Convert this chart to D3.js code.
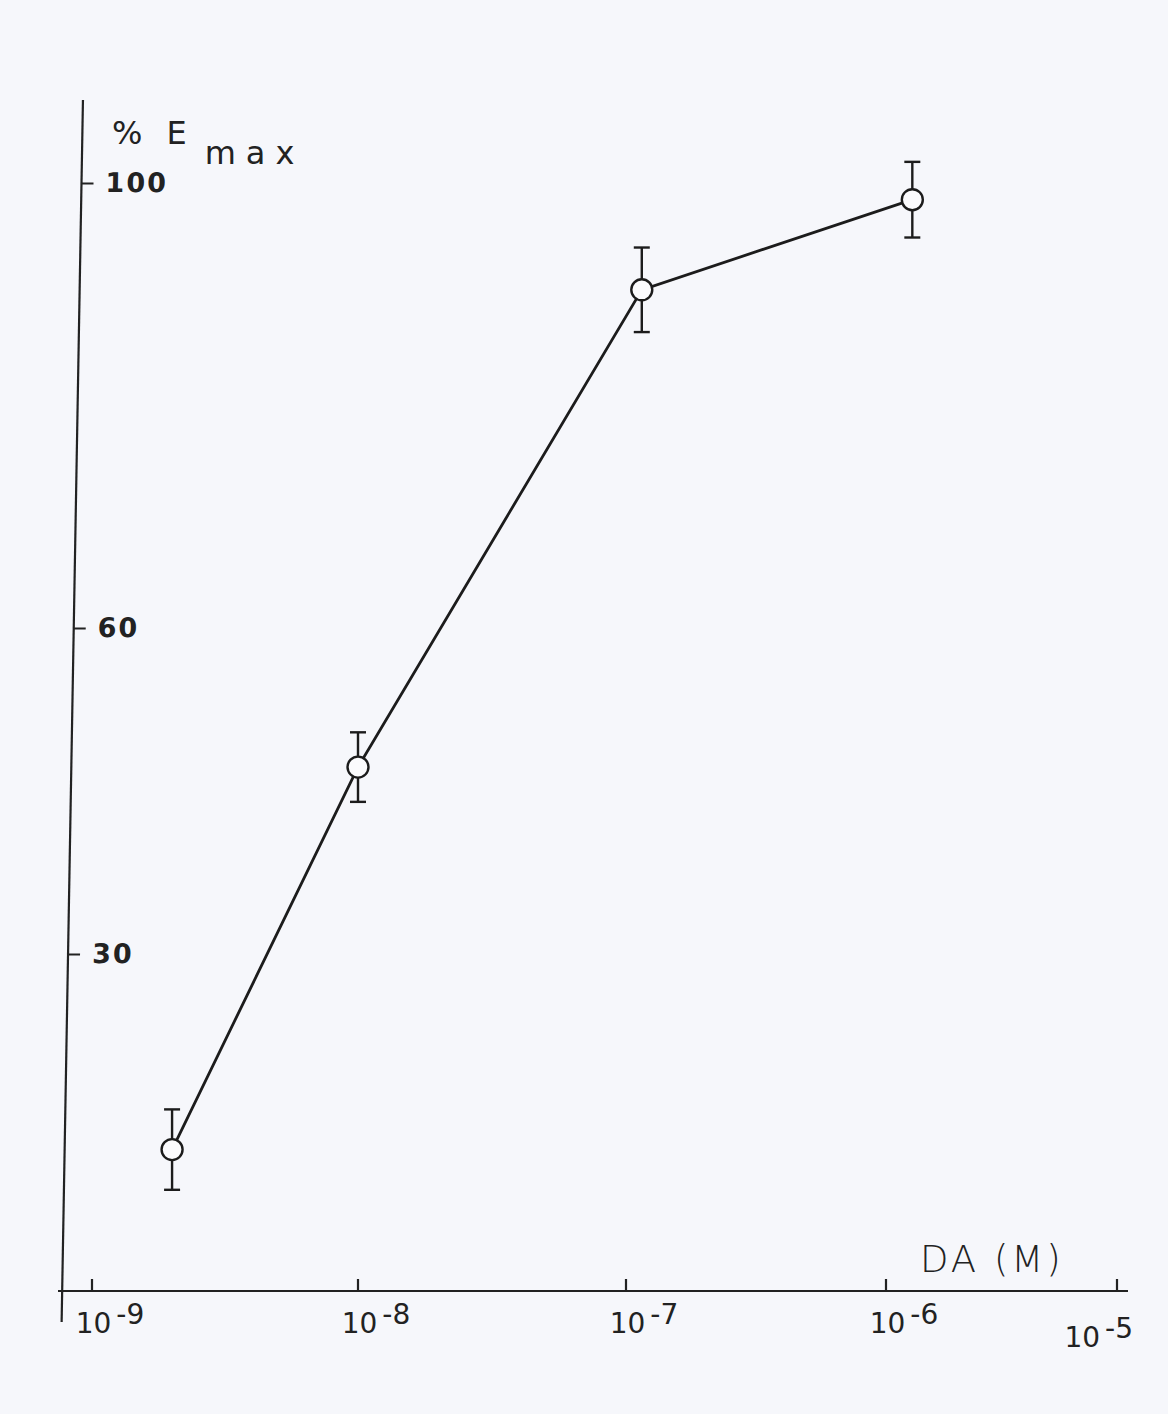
<!DOCTYPE html>
<html>
<head>
  <meta charset="utf-8">
  <title>% Emax vs DA</title>
  <script src="https://d3js.org/d3.v7.min.js"></script>
  <style>
    body { margin: 0; background: #f6f7fb; }
    svg { display: block; }
    .lbl { font-family: "DejaVu Sans", sans-serif; fill: #222; }
    .line { fill: none; stroke: #1c1c1c; stroke-width: 2.8px; }
    .err { stroke: #1c1c1c; stroke-width: 2.4px; }
    .dot { fill: #fbfbfd; stroke: #1c1c1c; stroke-width: 2.4px; }
  </style>
</head>
<body>
  <script>
    // data
    const conc = [2e-9, 1e-8, 1.15e-7, 1.3e-6];   // DA (M)
    const emax = [12, 47.2, 90.4, 98.5];          // % Emax
    const sem  = [3.7, 3.2, 3.8, 3.4];

    const xTicks = [1e-9, 1e-8, 1e-7, 1e-6, 1e-5];
    const xTickExp = ["-9", "-8", "-7", "-6", "-5"];
    const yTicks = [30, 60, 100];

    const width = 1168, height = 1414;

    const svg = d3.select("body").append("svg")
        .attr("width", width)
        .attr("height", height);

    // hand-drawn decades are not evenly spaced, so use a piecewise log scale
    const x = d3.scaleLog()
        .domain(xTicks)
        .range([92, 358, 626, 886, 1117]);

    const y = d3.scaleLinear()
        .domain([30, 60, 100])
        .range([954, 628, 183]);

    const axisY0 = 1291;
    const last = xTicks.length - 1;

    // x axis
    const gx = svg.append("g").attr("transform", `translate(0,${axisY0})`);
    gx.append("line")
        .attr("x1", 58).attr("x2", 1128)
        .attr("stroke", "#222").attr("stroke-width", 2.2);
    gx.selectAll(".xt")
      .data(xTicks)
      .join("line")
        .attr("x1", d => x(d)).attr("x2", d => x(d))
        .attr("y1", 0).attr("y2", -12)
        .attr("stroke", "#222").attr("stroke-width", 2.2);

    const xl = gx.selectAll(".xl")
      .data(xTicks)
      .join("text")
        .attr("class", "lbl")
        .attr("x", (d, i) => i === last ? x(d) + 16 : x(d) + 18)
        .attr("y", (d, i) => i === last ? 56 : 42)
        .attr("text-anchor", (d, i) => i === last ? "end" : "middle")
        .style("font-size", "28px");
    xl.append("tspan").text("10");
    xl.append("tspan")
        .attr("dy", -9)
        .attr("dx", 5)
        .text((d, i) => xTickExp[i]);

    svg.append("text")
        .attr("class", "lbl")
        .attr("x", 920).attr("y", 1272)
        .attr("letter-spacing", 3)
        .style("font-size", "37px")
        .style("font-weight", 300)
        .text("DA (M)");

    // y axis: the original axis is drawn slightly out of vertical
    const gy = svg.append("g")
        .attr("transform", "translate(84.7,0) skewX(-1.0)");
    gy.append("line")
        .attr("y1", 100).attr("y2", 1322)
        .attr("stroke", "#222").attr("stroke-width", 2.2);
    gy.call(d3.axisRight(y).tickValues(yTicks).tickSize(12).tickPadding(12))
      .call(g => g.select(".domain").remove())
      .call(g => g.selectAll(".tick line").attr("stroke", "#222").attr("stroke-width", 2.2))
      .call(g => g.selectAll(".tick text")
          .attr("class", "lbl")
          .attr("fill", "#222")
          .attr("letter-spacing", 2)
          .style("font-family", "DejaVu Sans, sans-serif")
          .style("font-size", "27px")
          .style("font-weight", "bold"));

    const yl = svg.append("text")
        .attr("class", "lbl")
        .attr("x", 112).attr("y", 144)
        .style("font-size", "32px");
    yl.append("tspan").text("%");
    yl.append("tspan").attr("dx", 24).text("E");
    yl.append("tspan").attr("dx", 18).attr("dy", 20)
        .attr("letter-spacing", 10).style("font-size", "32px").text("max");

    // data line
    const pts = conc.map((c, i) => ({ c, v: emax[i], e: sem[i] }));

    svg.append("path")
        .datum(pts)
        .attr("class", "line")
        .attr("d", d3.line().x(d => x(d.c)).y(d => y(d.v)));

    const eb = svg.selectAll(".eb")
      .data(pts)
      .join("g");
    eb.append("line").attr("class", "err")
        .attr("x1", d => x(d.c)).attr("x2", d => x(d.c))
        .attr("y1", d => y(d.v + d.e)).attr("y2", d => y(d.v - d.e));
    eb.append("line").attr("class", "err")
        .attr("x1", d => x(d.c) - 8).attr("x2", d => x(d.c) + 8)
        .attr("y1", d => y(d.v + d.e)).attr("y2", d => y(d.v + d.e));
    eb.append("line").attr("class", "err")
        .attr("x1", d => x(d.c) - 8).attr("x2", d => x(d.c) + 8)
        .attr("y1", d => y(d.v - d.e)).attr("y2", d => y(d.v - d.e));

    svg.selectAll(".dot")
      .data(pts)
      .join("circle")
        .attr("class", "dot")
        .attr("cx", d => x(d.c))
        .attr("cy", d => y(d.v))
        .attr("r", 10.5);
  </script>
</body>
</html>
